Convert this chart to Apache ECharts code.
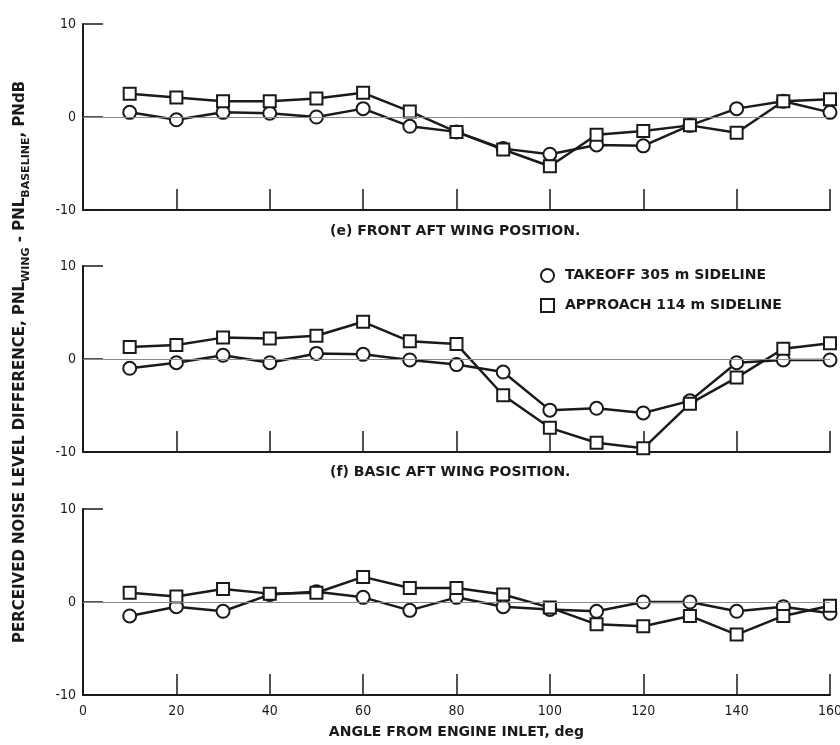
<!DOCTYPE html>
<html>
<head>
<meta charset="utf-8">
<script src="https://cdn.jsdelivr.net/npm/echarts@6/dist/echarts.min.js"></script>
<style>
  html, body { margin: 0; padding: 0; background: #fff; }
  #chart { width: 840px; height: 745px; }
</style>
</head>
<body>
<div id="chart"></div>
<script>
// Angle from engine inlet, deg
const angles = [10, 20, 30, 40, 50, 60, 70, 80, 90, 100, 110, 120, 130, 140, 150, 160];

// (e) Front aft wing position
const frontTakeoff  = [0.5, -0.3, 0.5, 0.4, 0.0, 0.9, -1.0, -1.6, -3.4, -4.0, -3.0, -3.1, -0.9, 0.9, 1.7, 0.5];
const frontApproach = [2.5, 2.1, 1.7, 1.7, 2.0, 2.6, 0.6, -1.6, -3.5, -5.3, -1.9, -1.5, -0.9, -1.7, 1.7, 1.9];

// (f) Basic aft wing position
const basicTakeoff  = [-1.0, -0.4, 0.4, -0.4, 0.6, 0.5, -0.1, -0.6, -1.4, -5.5, -5.3, -5.8, -4.5, -0.4, -0.1, -0.1];
const basicApproach = [1.3, 1.5, 2.3, 2.2, 2.5, 4.0, 1.9, 1.6, -3.9, -7.4, -9.0, -9.6, -4.8, -2.0, 1.1, 1.7];

// Lower panel
const lowerTakeoff  = [-1.5, -0.5, -1.0, 0.8, 1.1, 0.5, -0.9, 0.5, -0.5, -0.8, -1.0, 0.0, 0.0, -1.0, -0.5, -1.2];
const lowerApproach = [1.0, 0.6, 1.4, 0.9, 1.0, 2.7, 1.5, 1.5, 0.8, -0.6, -2.4, -2.6, -1.5, -3.5, -1.5, -0.4];

const xTicks = [0, 20, 40, 60, 80, 100, 120, 140, 160];
const yTicks = [-10, 0, 10];

const takeoffName = 'TAKEOFF 305 m SIDELINE';
const approachName = 'APPROACH 114 m SIDELINE';
const captions = ['(e) FRONT AFT WING POSITION.', '(f) BASIC AFT WING POSITION.'];

const FONT = "'DejaVu Sans', 'Liberation Sans', sans-serif";
const NUM_FONT = "'DejaVu Sans Condensed', 'DejaVu Sans', sans-serif";
const INK = '#1a1a1a';

const panels = [
  { top: 24,  takeoff: frontTakeoff, approach: frontApproach, labels: false },
  { top: 266, takeoff: basicTakeoff, approach: basicApproach, labels: false },
  { top: 509, takeoff: lowerTakeoff, approach: lowerApproach, labels: true }
];

const pair = (vals) => angles.map((a, i) => [a, vals[i]]);

const grids = [], xAxes = [], yAxes = [], series = [];
panels.forEach((p, k) => {
  grids.push({ left: 83, right: 10, top: p.top, height: 186, outerBoundsMode: 'none', containLabel: false });
  xAxes.push({
    type: 'value', gridIndex: k, min: xTicks[0], max: xTicks[xTicks.length - 1], interval: 20,
    axisLine: { show: true, onZero: false, lineStyle: { color: INK, width: 2 } },
    axisTick: { show: true, inside: true, length: 21, lineStyle: { color: INK, width: 1.5 } },
    axisLabel: { show: p.labels, color: INK, fontFamily: NUM_FONT, fontSize: 14, margin: 9 },
    splitLine: { show: false },
    name: p.labels ? 'ANGLE FROM ENGINE INLET, deg' : '',
    nameLocation: 'middle', nameGap: 30,
    nameTextStyle: { color: INK, fontFamily: FONT, fontSize: 14, fontWeight: 'bold' }
  });
  yAxes.push({
    type: 'value', gridIndex: k, min: yTicks[0], max: yTicks[2], interval: 10,
    axisLine: { show: true, lineStyle: { color: INK, width: 2 } },
    axisTick: { show: true, inside: true, length: 20, lineStyle: { color: INK, width: 1.5 } },
    axisLabel: { color: INK, fontFamily: NUM_FONT, fontSize: 14, margin: 7 },
    splitLine: { show: false }
  });
  // thin zero reference line
  series.push({
    type: 'line', xAxisIndex: k, yAxisIndex: k, data: [], silent: true, z: 1,
    markLine: {
      silent: true, symbol: 'none', animation: false,
      label: { show: false },
      lineStyle: { color: '#8a8a8a', width: 1, type: 'solid' },
      data: [{ yAxis: 0 }]
    }
  });
  const common = {
    type: 'line', xAxisIndex: k, yAxisIndex: k, symbolSize: 13, z: 3,
    animation: false,
    lineStyle: { color: INK, width: 2.5 },
    itemStyle: { color: '#fff', borderColor: INK, borderWidth: 2 }
  };
  series.push(Object.assign({}, common, { name: takeoffName, symbol: 'circle', data: pair(p.takeoff) }));
  series.push(Object.assign({}, common, { name: approachName, symbol: 'rect', symbolSize: 12, data: pair(p.approach) }));
});

const chart = echarts.init(document.getElementById('chart'), null, { renderer: 'canvas' });
chart.setOption({
  backgroundColor: '#fff',
  animation: false,
  grid: grids,
  xAxis: xAxes,
  yAxis: yAxes,
  series: series,
  legend: {
    orient: 'vertical', left: 535, top: 263, itemGap: 15,
    itemWidth: 13, itemHeight: 13, selectedMode: false,
    textStyle: { color: INK, fontFamily: FONT, fontSize: 14, fontWeight: 'bold', padding: [0, 0, 0, 6] },
    data: [
      { name: takeoffName, icon: 'circle', itemStyle: { color: '#fff', borderColor: INK, borderWidth: 2 } },
      { name: approachName, icon: 'rect', itemStyle: { color: '#fff', borderColor: INK, borderWidth: 2 } }
    ]
  },
  graphic: [
    {
      type: 'text', left: 330, top: 224, silent: true,
      style: { text: captions[0], fill: INK, font: 'bold 14px ' + FONT }
    },
    {
      type: 'text', left: 330, top: 465, silent: true,
      style: { text: captions[1], fill: INK, font: 'bold 14px ' + FONT }
    },
    {
      type: 'text', x: 20, y: 362, rotation: Math.PI / 2, silent: true,
      style: {
        text: '{m|PERCEIVED NOISE LEVEL DIFFERENCE, PNL}{s|WING}{m| - PNL}{s|BASELINE}{m|, PNdB}',
        align: 'center', verticalAlign: 'middle',
        rich: {
          m: { fill: INK, fontFamily: FONT, fontSize: 15, fontWeight: 'bold', lineHeight: 24, verticalAlign: 'middle' },
          s: { fill: INK, fontFamily: FONT, fontSize: 11, fontWeight: 'bold', lineHeight: 24, verticalAlign: 'bottom' }
        }
      }
    }
  ]
});
</script>
</body>
</html>
